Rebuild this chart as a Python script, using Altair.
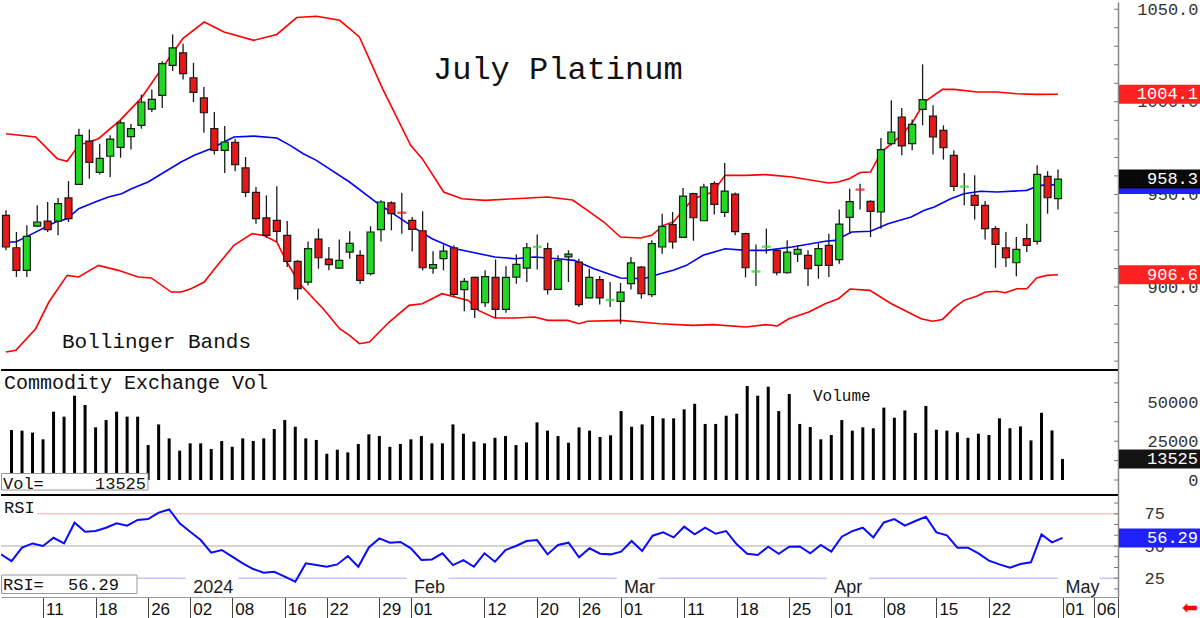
import altair as alt
import pandas as pd

# ---------------- data ----------------
dates = ["2023-12-05", "2023-12-06", "2023-12-07", "2023-12-08", "2023-12-11", "2023-12-12", "2023-12-13",
         "2023-12-14", "2023-12-15", "2023-12-18", "2023-12-19", "2023-12-20", "2023-12-21", "2023-12-22",
         "2023-12-26", "2023-12-27", "2023-12-28", "2023-12-29", "2024-01-02", "2024-01-03", "2024-01-04",
         "2024-01-05", "2024-01-08", "2024-01-09", "2024-01-10", "2024-01-11", "2024-01-12", "2024-01-16",
         "2024-01-17", "2024-01-18", "2024-01-19", "2024-01-22", "2024-01-23", "2024-01-24", "2024-01-25",
         "2024-01-26", "2024-01-29", "2024-01-30", "2024-01-31", "2024-02-01", "2024-02-02", "2024-02-05",
         "2024-02-06", "2024-02-07", "2024-02-08", "2024-02-09", "2024-02-12", "2024-02-13", "2024-02-14",
         "2024-02-15", "2024-02-16", "2024-02-20", "2024-02-21", "2024-02-22", "2024-02-23", "2024-02-26",
         "2024-02-27", "2024-02-28", "2024-02-29", "2024-03-01", "2024-03-04", "2024-03-05", "2024-03-06",
         "2024-03-07", "2024-03-08", "2024-03-11", "2024-03-12", "2024-03-13", "2024-03-14", "2024-03-15",
         "2024-03-18", "2024-03-19", "2024-03-20", "2024-03-21", "2024-03-22", "2024-03-25", "2024-03-26",
         "2024-03-27", "2024-03-28", "2024-04-01", "2024-04-02", "2024-04-03", "2024-04-04", "2024-04-05",
         "2024-04-08", "2024-04-09", "2024-04-10", "2024-04-11", "2024-04-12", "2024-04-15", "2024-04-16",
         "2024-04-17", "2024-04-18", "2024-04-19", "2024-04-22", "2024-04-23", "2024-04-24", "2024-04-25",
         "2024-04-26", "2024-04-29", "2024-04-30", "2024-05-01"]

opens = [938.7, 921.2, 909.0, 932.9, 935.6, 935.6, 948.1, 955.4, 978.8, 961.9,
         970.6, 975.4, 981.2, 987.3, 996.1, 1003.5, 1019.7, 1026.4, 1013.0, 1002.1,
         985.5, 973.8, 978.1, 964.3, 951.1, 937.3, 936.0, 927.9, 913.9, 902.7,
         925.9, 915.1, 910.2, 918.9, 917.1, 907.2, 931.0, 945.4, 940.5, 936.0,
         930.4, 910.2, 915.3, 921.1, 898.6, 905.2, 891.5, 905.2, 887.9, 905.4,
         910.2, 921.3, 920.7, 898.7, 916.3, 913.5, 894.1, 904.0, 892.6, 892.3,
         901.8, 910.8, 895.9, 921.6, 933.7, 926.8, 950.4, 935.8, 955.8, 940.3,
         950.2, 928.8, 908.0, 921.4, 919.8, 907.7, 917.8, 917.1, 911.7, 922.5,
         914.8, 937.6, 953.0, 946.3, 940.5, 977.4, 991.8, 977.4, 995.9, 992.3,
         984.6, 971.1, 953.9, 949.5, 944.1, 931.5, 921.1, 913.1, 926.1, 924.7,
         959.8, 947.7]
highs = [941.4, 929.7, 933.3, 944.1, 945.9, 948.1, 957.2, 985.5, 985.0, 977.4,
         981.9, 990.0, 988.0, 1003.9, 1006.6, 1021.9, 1036.4, 1031.4, 1021.1, 1008.0,
         994.5, 986.9, 980.1, 970.2, 954.0, 949.5, 954.4, 935.6, 914.5, 924.6,
         931.5, 921.6, 925.7, 930.1, 919.8, 932.8, 946.8, 946.3, 950.9, 937.8,
         940.9, 919.3, 922.9, 922.5, 904.9, 905.5, 909.0, 914.9, 911.2, 917.6,
         923.8, 928.4, 923.9, 917.1, 919.8, 915.3, 909.9, 905.9, 902.7, 902.2,
         916.2, 911.3, 925.2, 939.6, 940.5, 953.5, 950.9, 955.8, 957.1, 967.0,
         951.1, 929.3, 922.9, 931.5, 920.3, 925.2, 922.5, 919.8, 923.9, 928.8,
         941.9, 953.1, 955.8, 946.8, 980.5, 1000.8, 996.7, 990.5, 1020.2, 998.1,
         987.3, 973.8, 961.6, 960.3, 946.4, 932.9, 929.7, 927.0, 934.2, 965.7,
         962.5, 963.4]
lows = [919.8, 905.4, 905.4, 932.4, 929.7, 927.9, 935.1, 955.3, 958.5, 960.7,
        959.4, 969.8, 974.2, 985.5, 994.5, 996.7, 1016.6, 1012.1, 999.9, 983.3,
        971.5, 961.6, 962.5, 948.6, 934.2, 926.5, 924.3, 910.8, 893.2, 900.9,
        909.9, 909.0, 909.9, 915.3, 901.8, 906.3, 924.6, 930.6, 928.8, 919.3,
        909.0, 907.2, 909.0, 894.6, 886.9, 883.3, 889.2, 883.3, 886.1, 901.8,
        902.7, 909.4, 896.0, 898.5, 902.7, 889.2, 893.9, 890.5, 889.2, 880.2,
        898.7, 893.7, 894.6, 918.0, 920.7, 926.5, 925.0, 935.6, 939.2, 937.8,
        927.9, 905.2, 900.5, 918.0, 906.3, 907.2, 913.5, 900.5, 904.5, 905.4,
        912.6, 928.8, 941.9, 927.0, 931.5, 976.5, 971.1, 973.8, 987.3, 971.5,
        968.8, 951.8, 944.1, 936.5, 925.7, 910.4, 910.8, 905.8, 918.9, 922.9,
        939.6, 941.9]
closes = [921.6, 909.0, 927.4, 935.1, 931.0, 945.0, 936.9, 981.9, 967.3, 969.5,
          979.9, 988.6, 985.5, 999.9, 1001.3, 1020.6, 1029.1, 1015.2, 1005.1, 994.1,
          973.8, 978.3, 966.1, 951.1, 936.9, 927.9, 930.1, 913.9, 899.1, 920.7,
          915.8, 912.1, 914.4, 923.6, 903.6, 929.7, 945.9, 939.6, 940.1, 931.1,
          910.4, 912.1, 919.4, 896.0, 903.1, 887.9, 905.6, 887.9, 905.2, 912.2,
          921.2, 921.7, 898.6, 914.2, 917.8, 890.5, 905.2, 894.1, 893.0, 897.3,
          913.0, 896.4, 923.4, 932.8, 924.3, 949.1, 937.4, 954.0, 944.6, 951.8,
          929.9, 910.4, 908.4, 921.8, 907.7, 918.9, 920.3, 909.9, 920.7, 911.7,
          934.0, 946.1, 952.6, 940.9, 974.2, 983.7, 976.2, 987.8, 1001.2, 981.0,
          975.2, 954.4, 954.2, 944.1, 931.5, 923.0, 915.8, 920.3, 922.5, 960.8,
          948.2, 958.3]

# Bollinger bands, sampled along the drawn lines (x = bar position)
upper_x = [0, 2.85, 4.92, 5.87, 6.98, 8.88, 10.94, 12.94, 14.94, 16.97, 19.03, 20.93, 23.79, 26.0, 27.91,
           29.8, 32.03, 33.93, 36.15, 38.85, 39.96, 42.02, 43.77, 45.99, 48.84, 52.01, 54.4, 55.82, 57.4,
           58.99, 60.89, 62.0, 63.11, 64.06, 65.97, 67.87, 69.04, 71.04, 72.94, 75.48, 78.97, 79.92, 81.0,
           82.0, 83.0, 84.04, 85.95, 87.06, 88.17, 89.91, 91.02, 93.24, 95.14, 97.05, 98.95, 101.0]
upper_v = [982.8, 981.0, 969.3, 967.9, 976.5, 980.1, 990.0, 1001.7, 1017.9, 1034.1, 1043.1, 1037.7, 1033.2,
           1036.4, 1045.5, 1046.2, 1044.0, 1035.0, 1007.1, 976.5, 969.3, 951.3, 947.7, 946.8, 947.7, 948.6,
           947.0, 941.4, 935.1, 927.0, 926.5, 927.9, 933.3, 935.1, 947.7, 951.3, 960.3, 960.3, 960.7, 959.4,
           956.2, 956.7, 958.6, 961.8, 962.1, 972.9, 981.9, 989.1, 999.9, 1006.7, 1006.7, 1005.3, 1005.3,
           1004.4, 1004.0, 1004.1]
mid_x = [0, 0.95, 2.22, 4.76, 5.87, 6.98, 8.56, 9.83, 11.1, 12.05, 13.64, 15.22, 16.81, 18.08, 19.66, 20.93,
         21.88, 23.79, 26.0, 27.28, 28.54, 29.8, 32.98, 35.52, 37.42, 39.33, 40.91, 43.13, 46.94, 48.84,
         50.74, 52.96, 54.55, 56.45, 58.99, 61.21, 62.8, 64.06, 65.33, 66.92, 69.04, 71.04, 72.94, 75.48,
         78.65, 79.6, 81.19, 83.0, 84.68, 86.9, 88.17, 89.12, 90.7, 91.97, 93.56, 95.14, 97.36, 98.0, 99.27,
         101.0]
mid_v = [924.3, 924.3, 927.9, 935.1, 936.9, 942.3, 945.9, 948.6, 950.4, 953.1, 956.7, 962.1, 967.5, 971.1,
         974.7, 978.3, 981.0, 981.5, 980.5, 976.5, 972.0, 968.4, 956.7, 945.9, 938.7, 931.5, 926.1, 920.7,
         916.2, 915.3, 916.2, 915.3, 914.4, 909.9, 904.9, 904.5, 907.2, 909.0, 911.7, 917.1, 920.7, 919.8,
         919.8, 921.6, 924.7, 925.2, 929.7, 930.1, 934.2, 937.8, 941.4, 943.2, 947.7, 950.4, 951.7, 951.3,
         952.0, 952.2, 954.9, 955.3]
lower_x = [0, 0.95, 2.85, 4.12, 5.87, 6.98, 8.88, 10.78, 12.69, 13.95, 15.86, 16.81, 17.76, 19.03, 20.3,
           21.88, 23.63, 24.74, 26.0, 26.96, 28.23, 30.45, 32.03, 32.98, 33.93, 34.89, 36.79, 38.69, 39.96,
           41.86, 44.4, 45.35, 46.94, 48.84, 50.74, 52.01, 53.92, 55.0, 55.82, 58.99, 60.89, 62.8, 65.97,
           67.87, 71.04, 72.94, 74.05, 75.16, 77.07, 78.65, 79.92, 81.03, 82.93, 85.0, 85.95, 87.85, 88.96,
           89.91, 91.02, 91.97, 93.24, 94.03, 95.14, 95.94, 97.05, 98.0, 98.95, 99.91, 101.0]
lower_v = [864.9, 865.8, 877.5, 891.9, 906.3, 905.4, 911.7, 909.0, 905.4, 904.9, 897.3, 897.3, 899.1, 902.7,
           911.7, 922.5, 928.8, 927.9, 924.3, 913.5, 901.5, 888.3, 877.5, 873.9, 869.4, 870.3, 881.1, 890.1,
           891.0, 896.4, 892.8, 887.4, 883.3, 883.3, 883.8, 882.0, 882.0, 880.2, 881.5, 882.0, 881.1, 880.2,
           879.3, 879.7, 878.4, 879.7, 878.95, 882.9, 886.5, 891.0, 893.7, 898.9, 898.2, 891.0, 888.3, 882.9,
           881.5, 882.5, 888.7, 892.8, 895.2, 897.3, 897.7, 896.9, 899.1, 899.1, 904.9, 906.3, 906.6]

# volume (first bar of the window is hidden at the left edge)
volumes = [32200, 31800, 30500, 26200, 44000, 40800, 54300, 48300, 33900, 38600,
           44000, 40800, 40800, 22500, 35800, 26800, 18900, 23600, 23600, 20000,
           25100, 21400, 26800, 25100, 26800, 32800, 38600, 34300, 26800, 25800,
           16900, 19500, 17800, 23200, 29400, 28300, 21400, 23200, 26200, 28300,
           23600, 23600, 35800, 29800, 24700, 23600, 27200, 28300, 22500, 24200,
           37100, 31800, 28300, 24000, 33900, 31800, 27700, 28800, 44400, 34300,
           35800, 41200, 39700, 39700, 45500, 49100, 36100, 36100, 41400, 42700,
           60500, 54300, 60100, 44400, 55400, 36100, 34100, 26200, 29000, 38600,
           31800, 33900, 33300, 46600, 40100, 44800, 30300, 47700, 32400, 31800,
           30700, 27200, 29800, 29000, 39700, 33300, 34500, 25500, 43300, 31900,
           13525]

rsi = [43.5, 38.3, 48.7, 52.0, 50.0, 56.4, 52.0, 68.1, 61.1, 61.6,
       64.2, 67.6, 65.8, 70.2, 70.9, 75.9, 78.4, 67.6, 61.1, 54.6,
       44.8, 46.9, 41.7, 36.5, 32.1, 29.3, 30.0, 26.2, 22.3, 36.5,
       35.2, 33.9, 35.7, 42.2, 33.9, 48.9, 55.9, 52.6, 53.1, 48.2,
       39.1, 39.6, 44.3, 35.2, 39.1, 33.9, 44.3, 37.8, 46.9, 50.0,
       53.9, 54.6, 43.5, 50.8, 52.6, 41.2, 48.2, 44.0, 43.5, 45.6,
       53.9, 46.1, 58.0, 60.6, 56.7, 65.0, 59.0, 64.2, 59.5, 61.6,
       51.3, 44.0, 43.0, 49.5, 44.0, 49.5, 49.7, 44.3, 50.8, 45.6,
       57.2, 61.6, 64.2, 56.7, 68.3, 70.9, 65.8, 69.4, 72.7, 60.6,
       58.3, 48.7, 48.7, 44.3, 38.6, 35.7, 33.2, 36.0, 37.3, 59.0,
       52.8, 56.29]

tick_idx = [4, 9, 14, 18, 22, 27, 31, 36, 39, 46, 51, 55, 59, 65, 70, 75, 79, 84, 89, 94, 101, 104]
tick_lbl = ["11", "18", "26", "02", "08", "16", "22", "29", "01", "12", "20", "26", "01", "11", "18", "25",
            "01", "08", "15", "22", "01", "06"]
month_lbl = ["2024", "Feb", "Mar", "Apr", "May"]
month_idx = [18, 39, 59, 79, 101]

price_axis_vals = [900, 950, 1000, 1050]
price_minor = [860, 870, 880, 890, 900, 910, 920, 930, 940, 950, 960, 970, 980, 990, 1000, 1010, 1020,
               1030, 1040, 1050]
vol_axis_vals = [0, 25000, 50000]
vol_minor = [0, 12500, 25000, 37500, 50000, 62500]
rsi_axis_vals = [25, 50, 75]
rsi_minor = [16.67, 25, 33.33, 41.67, 50, 58.33, 66.67, 75, 83.33]

price_boxes = [1004.1, 955.3, 958.3, 906.6]
price_box_col = ["#ff2020", "#2020ff", "#080808", "#ff2020"]
price_box_txt = ["1004.1", "", "958.3", "906.6"]

# ---------------- styling ----------------
W = 1117
H1, H2, H3 = 368, 125, 102
GREEN = "#22d822"
RED = "#e81818"
MONO = "Liberation Mono"
SANS = "Liberation Sans"
XMAX = 106.28
BOX_X2 = 1199          # right edge of value boxes (px, relative to plot)
HALF = 9.5             # half height of value boxes (px)

P_DOM = [855.2, 1053.9]
V_DOM = [-9660, 70840]
R_DOM = [10.4, 89.6]
xs = alt.Scale(domain=[0, XMAX], nice=False, zero=False)
ys_price = alt.Scale(domain=P_DOM, nice=False, zero=False)
ys_vol = alt.Scale(domain=V_DOM, nice=False, zero=False)
ys_rsi = alt.Scale(domain=R_DOM, nice=False, zero=False)


def half_units(dom, h):
    return HALF * (dom[1] - dom[0]) / h


def right_axis(values, fmt, align, pad):
    return alt.Axis(orient="right", values=values, format=fmt, ticks=False, domain=True,
                    domainColor="#888888", domainWidth=1.5, grid=False, title=None,
                    labelAlign=align, labelPadding=pad, labelFont=MONO, labelFontSize=17,
                    labelColor="#333333", labelOverlap=False, labelBaseline="middle")


ya_price = right_axis(price_axis_vals, ".1f", "right", 80)
ya_vol = right_axis(vol_axis_vals, "d", "right", 80)
ya_rsi = right_axis(rsi_axis_vals, "d", "left", 26)

xa_bottom = alt.Axis(orient="bottom", values=tick_idx + [XMAX], tickSize=23, labels=False,
                     tickColor="#444444", tickWidth=1, domain=True, domainColor="#999999",
                     grid=False, title=None)

one = pd.DataFrame({"a": [0]})

df = pd.DataFrame({"idx": list(range(len(opens))), "date": dates, "open": opens, "high": highs,
                   "low": lows, "close": closes})
df["dir"] = ["up" if c >= o else "down" for o, c in zip(opens, closes)]
color_dir = alt.Color("dir:N", scale=alt.Scale(domain=["up", "down"], range=[GREEN, RED]), legend=None)
X = alt.X("idx:Q", scale=xs, axis=None)


def text_layer(txt, x, y, size, font=MONO, align="left", color="#111111", baseline="alphabetic"):
    return alt.Chart(pd.DataFrame({"t": [txt]})).mark_text(
        align=align, baseline=baseline, font=font, fontSize=size, color=color
    ).encode(x=alt.value(x), y=alt.value(y), text="t:N")


def value_boxes(vals, cols, txts, scale, axis, dom, h):
    bdf = pd.DataFrame({"v": vals, "c": cols, "t": txts})
    hu = half_units(dom, h)
    rect = alt.Chart(bdf).transform_calculate(
        lo="datum.v - %f" % hu, hi="datum.v + %f" % hu
    ).mark_rect().encode(
        y=alt.Y("lo:Q", scale=scale, axis=axis), y2="hi:Q",
        x=alt.value(W + 1), x2=alt.value(BOX_X2), color=alt.Color("c:N", scale=None))
    txt = alt.Chart(bdf).mark_text(align="right", baseline="middle", font=MONO, fontSize=17,
                                   color="white").encode(
        y=alt.Y("v:Q", scale=scale, axis=axis), x=alt.value(W + 80), text="t:N")
    return [rect, txt]


# ---------------- price panel ----------------
band_layers = []
for bx, bv, col in [(upper_x, upper_v, "#ff0000"), (lower_x, lower_v, "#ff0000"), (mid_x, mid_v, "#0000ff")]:
    band_layers.append(
        alt.Chart(pd.DataFrame({"x": bx, "v": bv})).mark_line(color=col, strokeWidth=1.6, clip=True).encode(
            x=alt.X("x:Q", scale=xs, axis=None), y=alt.Y("v:Q", scale=ys_price, axis=ya_price))
    )

wicks = alt.Chart(df).mark_rule(color="#1a1a1a", strokeWidth=1.3, clip=True).encode(
    x=X, y=alt.Y("low:Q", scale=ys_price, axis=ya_price), y2="high:Q")
bodies = alt.Chart(df).transform_filter("abs(datum.open - datum.close) >= 0.6").mark_bar(
    size=7, stroke="#1a1a1a", strokeWidth=1.2, clip=True).encode(
    x=X, y=alt.Y("open:Q", scale=ys_price, axis=ya_price), y2="close:Q", color=color_dir)
dojis = alt.Chart(df).transform_filter("abs(datum.open - datum.close) < 0.6").mark_tick(
    orient="horizontal", size=9, thickness=2.5, clip=True).encode(
    x=X, y=alt.Y("close:Q", scale=ys_price, axis=ya_price), color=color_dir)

pticks = alt.Chart(pd.DataFrame({"v": price_minor})).mark_rule(color="#777777").encode(
    y=alt.Y("v:Q", scale=ys_price, axis=ya_price), x=alt.value(W - 4), x2=alt.value(W))

sep1 = alt.Chart(one).mark_rule(color="#000000", strokeWidth=2).encode(
    x=alt.value(0), x2=alt.value(W), y=alt.value(H1))

price = alt.layer(
    *band_layers, wicks, bodies, dojis, pticks,
    *value_boxes(price_boxes, price_box_col, price_box_txt, ys_price, ya_price, P_DOM, H1),
    sep1,
    text_layer("July Platinum", 432, 77, 32),
    text_layer("Bollinger Bands", 61, 346, 21),
).properties(width=W, height=H1)

# ---------------- volume panel ----------------
vol_df = pd.DataFrame({"idx": list(range(1, len(volumes) + 1)), "vol": volumes})
vbars = alt.Chart(vol_df).mark_rule(color="#000000", strokeWidth=3, clip=True).encode(
    x=X, y=alt.Y("vol:Q", scale=ys_vol, axis=ya_vol), y2=alt.datum(0))
vticks = alt.Chart(pd.DataFrame({"v": vol_minor})).mark_rule(color="#777777").encode(
    y=alt.Y("v:Q", scale=ys_vol, axis=ya_vol), x=alt.value(W - 4), x2=alt.value(W))
vbox = alt.Chart(one).mark_rect(fill="white", stroke="#999999", strokeWidth=1).encode(
    x=alt.value(0.5), x2=alt.value(147), y=alt.value(103.5), y2=alt.value(120))
sep2 = alt.Chart(one).mark_rule(color="#000000", strokeWidth=2).encode(
    x=alt.value(0), x2=alt.value(W), y=alt.value(H2))

volume = alt.layer(
    vbars, vticks, vbox,
    *value_boxes([volumes[-1]], ["#141414"], [str(volumes[-1])], ys_vol, ya_vol, V_DOM, H2),
    sep2,
    text_layer("Vol=", 2, 118.5, 17),
    text_layer(str(volumes[-1]), 145, 118.5, 17, align="right"),
    text_layer("Commodity Exchange Vol", 3, 18.5, 20),
    text_layer("Volume", 812, 31, 16),
).properties(width=W, height=H2)

# ---------------- RSI panel ----------------
XR = alt.X("idx:Q", scale=xs, axis=xa_bottom)
rsi_df = pd.DataFrame({"idx": list(range(len(rsi))), "rsi": rsi})
ref_df = pd.DataFrame({"v": [75, 50, 25], "c": ["#ffaaaa", "#aaaaaa", "#aaaaff"]})
ref_lines = alt.Chart(ref_df).mark_rule(strokeWidth=1).encode(
    y=alt.Y("v:Q", scale=ys_rsi, axis=ya_rsi), x=alt.value(0), x2=alt.value(W),
    color=alt.Color("c:N", scale=None))
rsi_line = alt.Chart(rsi_df).mark_line(color="#0a0aff", strokeWidth=2, clip=True).encode(
    x=XR, y=alt.Y("rsi:Q", scale=ys_rsi, axis=ya_rsi))
rticks = alt.Chart(pd.DataFrame({"v": rsi_minor})).mark_rule(color="#777777").encode(
    y=alt.Y("v:Q", scale=ys_rsi, axis=ya_rsi), x=alt.value(W - 4), x2=alt.value(W))

month_df = pd.DataFrame({"idx": month_idx, "label": month_lbl})
month_bg = alt.Chart(month_df).transform_calculate(
    x0="datum.idx - 0.4", x1="datum.idx + (length(datum.label) * 10.5 + 6) / 10.51"
).mark_rect(color="white").encode(
    x=alt.X("x0:Q", scale=xs, axis=xa_bottom), x2="x1:Q", y=alt.value(76), y2=alt.value(101))
month_txt = alt.Chart(month_df).mark_text(align="left", baseline="alphabetic", font=SANS, fontSize=18,
                                          color="#222222", dx=3).encode(
    x=alt.X("idx:Q", scale=xs, axis=xa_bottom), y=alt.value(97.5), text="label:N")

day_df = pd.DataFrame({"idx": tick_idx, "label": tick_lbl})
day_txt = alt.Chart(day_df).mark_text(align="left", baseline="alphabetic", font=SANS, fontSize=17,
                                      color="#111111", dx=3).encode(
    x=alt.X("idx:Q", scale=xs, axis=xa_bottom), y=alt.value(H3 + 18), text="label:N")

rsi_lbl_bg = alt.Chart(one).mark_rect(fill="white").encode(
    x=alt.value(0), x2=alt.value(36), y=alt.value(3), y2=alt.value(24))
rbox = alt.Chart(one).mark_rect(fill="white", stroke="#999999", strokeWidth=1).encode(
    x=alt.value(0.5), x2=alt.value(136), y=alt.value(80), y2=alt.value(98.5))

rsi_panel = alt.layer(
    ref_lines, month_bg, rsi_lbl_bg, rsi_line, rticks, rbox,
    *value_boxes([rsi[-1]], ["#2020ff"], ["%.2f" % rsi[-1]], ys_rsi, ya_rsi, R_DOM, H3),
    month_txt, day_txt,
    text_layer("RSI", 3, 17.5, 17),
    text_layer("RSI=", 2, 95, 17),
    text_layer("%.2f" % rsi[-1], 118, 95, 17, align="right"),
    text_layer("\u2b05", 1189, H3 + 11, 19, font="DejaVu Sans", align="center", color="#ff0000",
               baseline="middle"),
).properties(width=W, height=H3)

chart = alt.vconcat(price, volume, rsi_panel, spacing=0, bounds="flush").properties(
    padding=0, background="white"
).configure_view(strokeWidth=0)

chart.save("out.html", embed_options={"renderer": "svg", "actions": False})
